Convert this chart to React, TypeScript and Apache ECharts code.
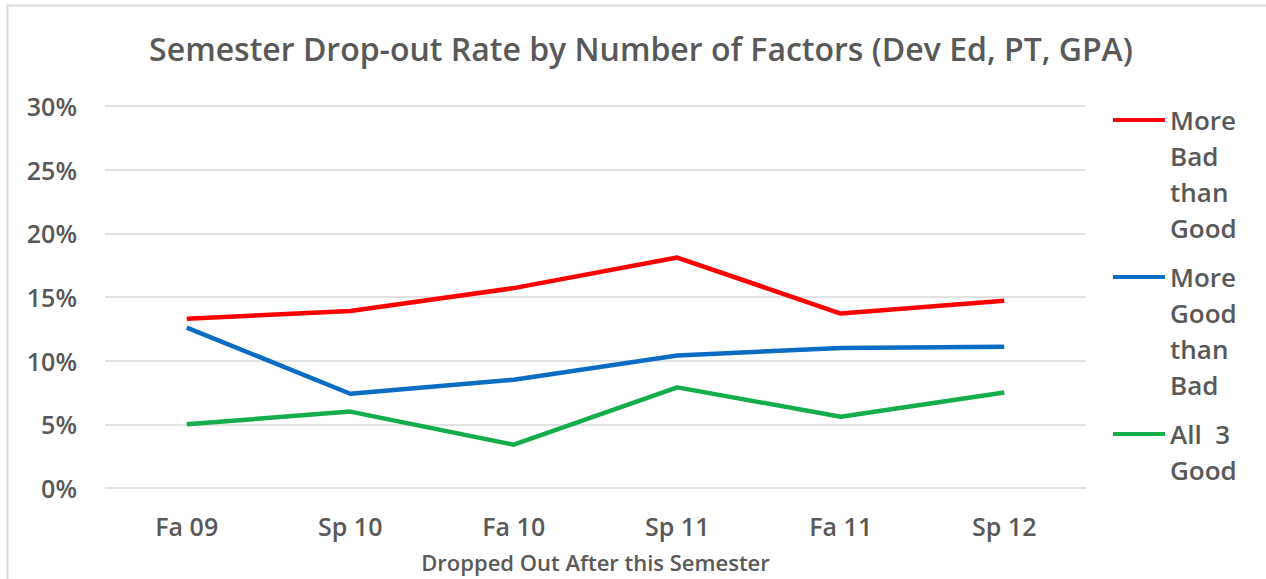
import React, { useEffect, useRef } from "react";
import * as echarts from "echarts";

const categories = ["Fa 09", "Sp 10", "Fa 10", "Sp 11", "Fa 11", "Sp 12"];
const moreBadThanGood = [13.3, 13.9, 15.7, 18.1, 13.7, 14.7];
const moreGoodThanBad = [12.6, 7.4, 8.5, 10.4, 11.0, 11.1];
const allThreeGood = [5.0, 6.0, 3.4, 7.9, 5.6, 7.5];
const seriesNames = ["More Bad than Good", "More Good than Bad", "All 3 Good"];
const legendLines = [
  ["More", "Bad", "than", "Good"],
  ["More", "Good", "than", "Bad"],
  ["All  3", "Good"],
];
const yTicks = { min: 0, max: 30, interval: 5 };

const FONT = "'Open Sans', 'Noto Sans', sans-serif";
const GRAY = "#595959";

export default function App() {
  const ref = useRef<HTMLDivElement>(null);
  useEffect(() => {
    if (!ref.current) return;
    const chart = echarts.init(ref.current, null, { renderer: "svg" });
    const colors = ["#FF0000", "#0A6CC2", "#13AD4B"];
    const datas = [moreBadThanGood, moreGoodThanBad, allThreeGood];
    const LH = 36;
    const legendFormatter = (name: string) => {
      const lines = legendLines[seriesNames.indexOf(name)];
      const parts = ["{p| }", ...lines.map((l) => "{t|" + l + "}")];
      const missing = 4 - lines.length;
      for (let k = 0; k < missing; k++) parts.push("{e| }");
      return parts.join("\n");
    };
    chart.setOption({
      animation: false,
      backgroundColor: "#ffffff",
      title: {
        text: "Semester Drop-out Rate by Number of Factors (Dev Ed, PT, GPA)",
        left: 636,
        textAlign: "center",
        top: 27,
        textStyle: { fontFamily: FONT, fontSize: 32, fontWeight: 600, color: GRAY },
      },
      graphic: [
        {
          type: "polyline",
          shape: { points: [[7.5, 579], [7.5, 5.5], [1266, 5.5]] },
          style: { stroke: "#D9D9D9", lineWidth: 2, fill: "none" },
          silent: true,
        },
      ],
      legend: {
        orient: "vertical",
        left: 1113,
        top: 43,
        padding: 0,
        itemWidth: 52,
        itemHeight: 4,
        itemGap: -41,
        icon: "rect",
        formatter: legendFormatter,
        textStyle: {
          fontFamily: FONT,
          fontSize: 26,
          fontWeight: 600,
          color: GRAY,
          rich: {
            p: { lineHeight: LH * 3, fontSize: 10 },
            t: {
              lineHeight: LH,
              fontFamily: FONT,
              fontSize: 26,
              fontWeight: 600,
              color: GRAY,
            },
            e: { lineHeight: LH, fontSize: 10 },
          },
        },
        data: seriesNames,
      },
      grid: { left: 105, right: 180, top: 106, bottom: 91, outerBoundsMode: "none" },
      xAxis: {
        type: "category",
        data: categories,
        boundaryGap: true,
        axisLine: { show: false },
        axisTick: { show: false },
        axisLabel: {
          fontFamily: FONT,
          fontSize: 25,
          fontWeight: 600,
          color: GRAY,
          margin: 25,
        },
        name: "Dropped Out After this Semester",
        nameLocation: "middle",
        nameGap: 63,
        nameTextStyle: { fontFamily: FONT, fontSize: 22, fontWeight: 600, color: GRAY },
      },
      yAxis: {
        type: "value",
        min: yTicks.min,
        max: yTicks.max,
        interval: yTicks.interval,
        axisLine: { show: false },
        axisTick: { show: false },
        splitLine: { lineStyle: { color: "#D9D9D9", width: 1.5 } },
        axisLabel: {
          formatter: "{value}%",
          fontFamily: FONT,
          fontSize: 25,
          fontWeight: 600,
          color: GRAY,
          margin: 28,
        },
      },
      series: seriesNames.map((name, i) => ({
        name,
        type: "line",
        data: datas[i],
        symbol: "none",
        color: colors[i],
        lineStyle: { width: 4.5, color: colors[i] },
        itemStyle: { color: colors[i] },
      })),
    });
    return () => chart.dispose();
  }, []);
  return (
    <div
      ref={ref}
      style={{ position: "absolute", left: 0, top: 0, width: 1266, height: 579 }}
    />
  );
}
